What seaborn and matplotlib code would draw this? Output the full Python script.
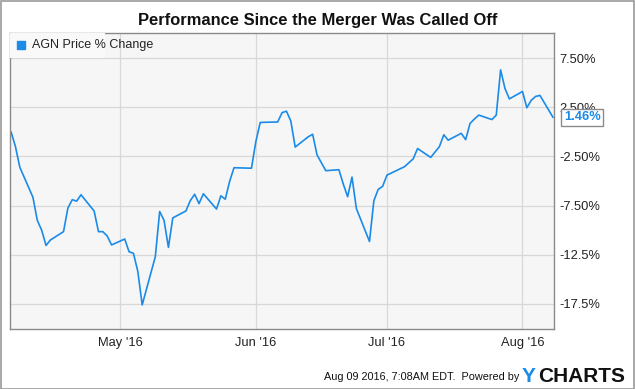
import numpy as np
import pandas as pd
import matplotlib
matplotlib.use('Agg')
import matplotlib.pyplot as plt
import matplotlib.dates as mdates
from matplotlib.patches import Rectangle
import seaborn as sns

# AGN daily % change since Apr 6 2016
dates = ['2016-04-06', '2016-04-07', '2016-04-08', '2016-04-11', '2016-04-12', '2016-04-13',
         '2016-04-14', '2016-04-15', '2016-04-18', '2016-04-19', '2016-04-20', '2016-04-21',
         '2016-04-22', '2016-04-25', '2016-04-26', '2016-04-27', '2016-04-28', '2016-04-29',
         '2016-05-02', '2016-05-03', '2016-05-04', '2016-05-05', '2016-05-06', '2016-05-09',
         '2016-05-10', '2016-05-11', '2016-05-12', '2016-05-13', '2016-05-16', '2016-05-17',
         '2016-05-18', '2016-05-19', '2016-05-20', '2016-05-23', '2016-05-24', '2016-05-25',
         '2016-05-26', '2016-05-27', '2016-05-31', '2016-06-01', '2016-06-02', '2016-06-03',
         '2016-06-06', '2016-06-07', '2016-06-08', '2016-06-09', '2016-06-10', '2016-06-13',
         '2016-06-14', '2016-06-15', '2016-06-16', '2016-06-17', '2016-06-20', '2016-06-21',
         '2016-06-22', '2016-06-23', '2016-06-24', '2016-06-27', '2016-06-28', '2016-06-29',
         '2016-06-30', '2016-07-01', '2016-07-05', '2016-07-06', '2016-07-07', '2016-07-08',
         '2016-07-11', '2016-07-12', '2016-07-13', '2016-07-14', '2016-07-15', '2016-07-18',
         '2016-07-19', '2016-07-20', '2016-07-21', '2016-07-22', '2016-07-25', '2016-07-26',
         '2016-07-27', '2016-07-28', '2016-07-29', '2016-08-01', '2016-08-02', '2016-08-03',
         '2016-08-04', '2016-08-05', '2016-08-08']
pct_change = [0.0, -1.5, -3.6, -6.65, -9.0, -10.0,
              -11.55, -11.0, -10.15, -7.75, -6.9, -7.05,
              -6.4, -8.05, -10.15, -10.15, -10.6, -11.5,
              -10.9, -12.2, -12.35, -14.2, -17.6, -12.7,
              -8.1, -9.0, -11.75, -8.75, -8.05, -7.0,
              -6.35, -7.3, -6.3, -7.85, -6.5, -6.85,
              -5.05, -3.65, -3.7, -1.0, 0.95, 0.97,
              1.0, 1.95, 2.1, 1.1, -1.55, -0.5,
              -0.25, -2.35, -3.15, -3.95, -3.85, -5.3,
              -6.6, -4.6, -7.8, -11.15, -7.0, -5.85,
              -5.55, -4.4, -3.55, -3.15, -2.75, -1.7,
              -2.6, -2.05, -1.5, -0.3, -0.85, -0.15,
              -0.8, 0.85, 1.3, 1.7, 1.25, 1.7,
              6.3, 4.4, 3.35, 4.1, 2.45, 3.2,
              3.6, 3.7, 1.46]
ytick_vals = [7.5, 2.5, -2.5, -7.5, -12.5, -17.5]
ytick_labels = ['7.50%', '2.50%', '-2.50%', '-7.50%', '-12.5%', '-17.5%']
series_name = 'AGN Price % Change'

df = pd.DataFrame({'date': pd.to_datetime(dates), 'pct': pct_change})

blue = '#1a8be8'
sns.set_theme(style='white')
plt.rcParams['font.family'] = ['Liberation Sans', 'DejaVu Sans']

fig = plt.figure(figsize=(6.35, 3.89), dpi=100)
ax = fig.add_axes([0.0157, 0.1542, 0.857, 0.761])
ax.set_facecolor('#f6f6f6')

sns.lineplot(data=df, x='date', y='pct', ax=ax, color=blue, linewidth=1.2, legend=False)

ax.set_xlim(pd.Timestamp('2016-04-06') - pd.Timedelta(hours=6), pd.Timestamp('2016-08-08') + pd.Timedelta(hours=6))
ax.set_ylim(-20.05, 10.05)

ax.xaxis.set_major_locator(mdates.MonthLocator(bymonth=[5, 6, 7, 8]))
ax.xaxis.set_major_formatter(mdates.DateFormatter("%b '%y"))
ax.yaxis.tick_right()
ax.set_yticks(ytick_vals)
ax.set_yticklabels(ytick_labels)
ax.tick_params(axis='both', length=0, labelsize=9.3, colors='#222222')
ax.tick_params(axis='y', pad=4)
ax.tick_params(axis='x', pad=6)
ax.set_xlabel('')
ax.set_ylabel('')
ax.grid(True, color='#d8d8d8', linewidth=0.9)
for s in ax.spines.values():
    s.set_color('#8a8a8a')
    s.set_linewidth(1.0)

# legend box in the top-left corner
ax.add_patch(Rectangle((0, 0.915), 0.175, 0.085, transform=ax.transAxes,
                       facecolor='#f9f9f9', edgecolor='none', zorder=3))
ax.plot([0.02], [0.958], marker='s', markersize=6, color=blue, transform=ax.transAxes,
        linestyle='none', zorder=4)
ax.text(0.04, 0.958, series_name, transform=ax.transAxes, fontsize=9,
        color='#222222', va='center', ha='left', zorder=4)

# last value tag
last = df.iloc[-1]
ax.annotate(f"{last['pct']:.2f}%", xy=(1.0, (last['pct'] + 20.05) / 30.1),
            xycoords='axes fraction', xytext=(7, 0), textcoords='offset points',
            fontsize=9.3, fontweight='bold', color=blue, va='center', ha='left',
            bbox=dict(boxstyle='square,pad=0.2', fc='white', ec='#8a8a8a', lw=1.0),
            zorder=5, annotation_clip=False)

fig.text(0.5, 0.948, 'Performance Since the Merger Was Called Off', ha='center', va='center',
         fontsize=11.9, fontweight='bold', color='#111111')
fig.text(0.818, 0.031, 'Aug 09 2016, 7:08AM EDT.  Powered by', ha='right', va='center',
         fontsize=7.8, color='#111111')
fig.text(0.822, 0.031, 'Y', ha='left', va='center', fontsize=15, fontweight='heavy', color='#1a8be8')
fig.text(0.847, 0.031, 'CHARTS', ha='left', va='center', fontsize=15, fontweight='heavy', color='#111111')

fig.patches.append(Rectangle((0.001, 0.001), 0.997, 0.997, transform=fig.transFigure,
                             fill=False, edgecolor='#999999', linewidth=1.2))

fig.savefig('out.png', dpi=100, facecolor='white')
